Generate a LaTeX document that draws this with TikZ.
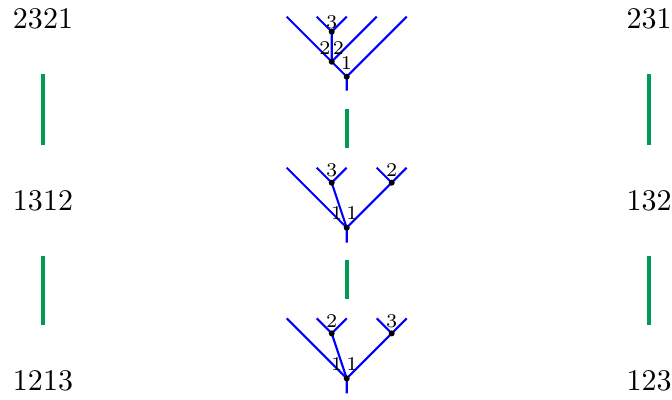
\documentclass[tikz,border=0pt]{standalone}
\usepackage{tikz}
\usetikzlibrary{positioning}
\definecolor{cGreen}{RGB}{0,155,85}
\definecolor{cBlue}{RGB}{0,0,255}

\begin{document}
\begin{tikzpicture}[x=0.3333pt, y=-0.3333pt,
    edge/.style={cBlue, line width=0.7pt},
    lbl/.style={font=\fontsize{6.5}{7}\selectfont, inner sep=0pt},
    link/.style={cGreen, line width=1.3pt}]
    \useasboundingbox (0,0) rectangle (672,399);
    % words on both sides
    \foreach \x/\y/\w/\n in {43/19/2321/L1, 43/201/1312/L2, 43/381/1213/L3, 649/19/231/R1, 649/201/132/R2, 649/381/123/R3}
        \node (\n) at (\x,\y) {\w};
    % top tree
    \coordinate (t0) at (346.7,90.7);
    \coordinate (t1) at (346.7,76.7);
    \coordinate (t2) at (331.7,61.7);
    \coordinate (t3) at (331.7,31.7);
    \foreach \x [count=\i] in {286.7,316.7,346.7,376.7,406.7}
        \coordinate (tl\i) at (\x,16.7);
    \draw[edge] (t0) -- (t1) -- (t2) -- (t3) -- (tl2);
    \draw[edge] (t3) -- (tl3);
    \draw[edge] (tl1) -- (t2) -- (tl4);
    \draw[edge] (t1) -- (tl5);
    % middle tree
    \coordinate (m0) at (346.7,242.7);
    \coordinate (m1) at (346.7,227.7);
    \coordinate (m2) at (331.7,182.7);
    \coordinate (m3) at (391.7,182.7);
    \foreach \x [count=\i] in {286.7,316.7,346.7,376.7,406.7}
        \coordinate (ml\i) at (\x,167.7);
    \draw[edge] (m0) -- (m1) -- (ml1);
    \draw[edge] (m1) -- (m2) -- (ml2);
    \draw[edge] (m2) -- (ml3);
    \draw[edge] (m1) -- (m3) -- (ml4);
    \draw[edge] (m3) -- (ml5);
    % bottom tree
    \coordinate (b0) at (346.7,393.4);
    \coordinate (b1) at (346.7,378.4);
    \coordinate (b2) at (331.7,333.4);
    \coordinate (b3) at (391.7,333.4);
    \foreach \x [count=\i] in {286.7,316.7,346.7,376.7,406.7}
        \coordinate (bl\i) at (\x,318.4);
    \draw[edge] (b0) -- (b1) -- (bl1);
    \draw[edge] (b1) -- (b2) -- (bl2);
    \draw[edge] (b2) -- (bl3);
    \draw[edge] (b1) -- (b3) -- (bl4);
    \draw[edge] (b3) -- (bl5);
    \foreach \v in {t1,t2,t3,m1,m2,m3,b1,b2,b3}
        \fill (\v) circle (3);
    % vertex labels
    \foreach \p/\n/\t in {(331.7,22.5)/ta/3, (325,48)/tb/2, (338.5,48)/tc/2, (346.5,63)/td/1,
        (336.7,213)/ma/1, (352,213)/mb/1, (331.7,170.5)/mc/3, (391.7,170.5)/md/2,
        (336.7,363.7)/ba/1, (352,363.7)/bb/1, (331.7,321.2)/bc/2, (391.7,321.2)/bd/3}
        \node[lbl] (\n) at \p {\t};
    % links
    \draw[link, shorten <=11.5pt, shorten >=11.8pt] (L1) -- (L2);
    \draw[link, shorten <=11.5pt, shorten >=11.8pt] (L2) -- (L3);
    \draw[link, shorten <=11.5pt, shorten >=11.8pt] (R1) -- (R2);
    \draw[link, shorten <=11.5pt, shorten >=11.8pt] (R2) -- (R3);
    \draw[link, shorten <=6.2pt, shorten >=6.5pt] (t0) -- (ml3);
    \draw[link, shorten <=5.8pt, shorten >=6.4pt] (m0) -- (bl3);
\end{tikzpicture}
\end{document}
